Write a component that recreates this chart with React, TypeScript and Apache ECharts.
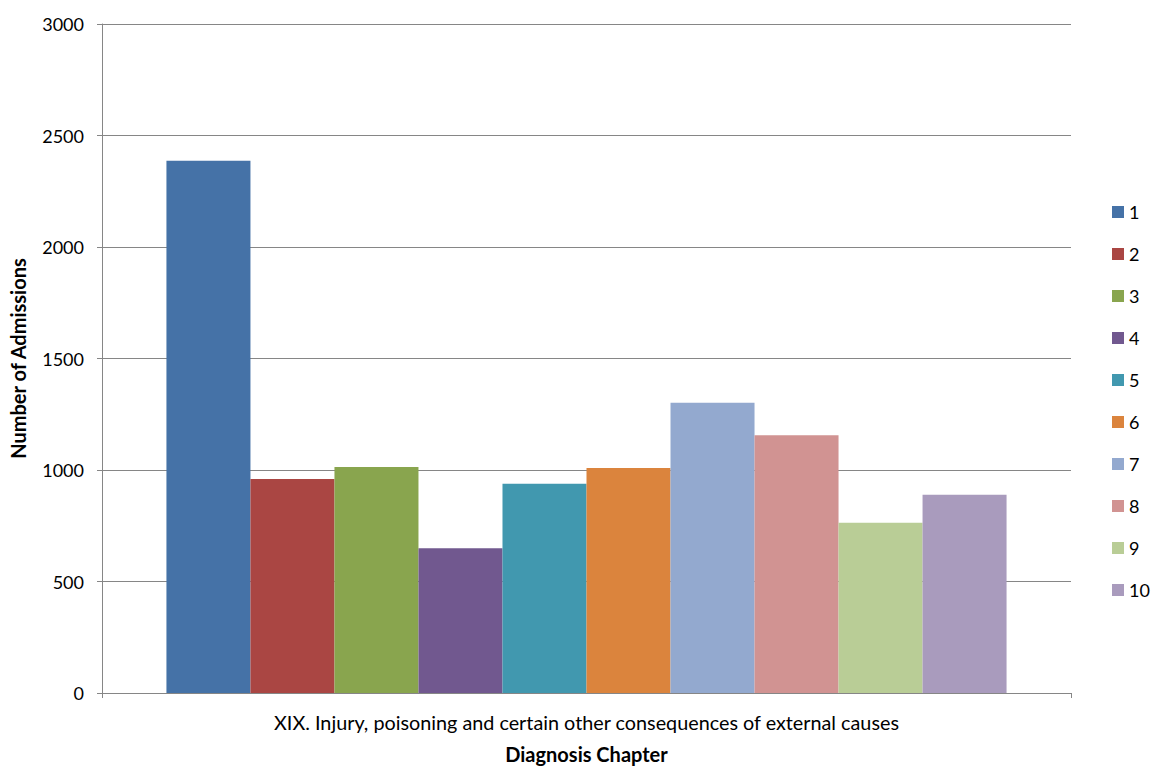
import React, { useEffect, useRef } from "react";
import * as echarts from "echarts";

const categories = ["XIX. Injury, poisoning and certain other consequences of external causes"];
const seriesNames = ["1", "2", "3", "4", "5", "6", "7", "8", "9", "10"];
const seriesValues = [2387, 960, 1013, 649, 938, 1009, 1302, 1156, 764, 889];
const colors = ["#4572A7", "#AA4643", "#89A54E", "#71588F", "#4198AF", "#DB843D", "#93A9CF", "#D19392", "#B9CD96", "#A99BBD"];
const yTicks = { min: 0, max: 3000, interval: 500 };

const FONT = "Lato, 'Open Sans', sans-serif";

export default function App() {
  const ref = useRef<HTMLDivElement>(null);
  useEffect(() => {
    if (!ref.current) return;
    const chart = echarts.init(ref.current, undefined, { renderer: "svg" });
    chart.setOption({
      animation: false,
      backgroundColor: "#ffffff",
      textStyle: { fontFamily: FONT, color: "#000" },
      grid: { left: 102, right: 81, top: 24, bottom: 70, containLabel: false },
      legend: {
        orient: "vertical",
        left: 1112,
        top: 203,
        padding: 0,
        itemWidth: 12,
        itemHeight: 12,
        itemGap: 24,
        icon: "rect",
        textStyle: { fontFamily: FONT, fontSize: 18, color: "#000" },
        data: seriesNames,
      },
      xAxis: {
        type: "category",
        data: categories,
        name: "Diagnosis Chapter",
        nameLocation: "middle",
        nameGap: 51,
        nameTextStyle: { fontFamily: FONT, fontSize: 20, fontWeight: "bold", color: "#000" },
        axisLine: { lineStyle: { color: "#868686", width: 1 } },
        axisTick: { show: true, length: 5, lineStyle: { color: "#868686" } },
        axisLabel: { fontFamily: FONT, fontSize: 19.8, color: "#000", margin: 19 },
      },
      yAxis: {
        type: "value",
        min: yTicks.min,
        max: yTicks.max,
        interval: yTicks.interval,
        name: "Number of Admissions",
        nameLocation: "middle",
        nameGap: 74,
        nameTextStyle: { fontFamily: FONT, fontSize: 20, fontWeight: "bold", color: "#000" },
        axisLine: { show: true, lineStyle: { color: "#868686", width: 1 } },
        axisTick: { show: true, length: 5, lineStyle: { color: "#868686" } },
        axisLabel: { fontFamily: FONT, fontSize: 18, color: "#000", margin: 18, formatter: (v: number) => String(v) },
        splitLine: { show: true, lineStyle: { color: "#868686", width: 1 } },
      },
      series: seriesNames.map((name, i) => ({
        name,
        type: "bar",
        data: [seriesValues[i]],
        itemStyle: { color: colors[i] },
        barGap: "0%",
        barCategoryGap: "13.3%",
      })),
    });
    return () => chart.dispose();
  }, []);
  return <div ref={ref} style={{ position: "absolute", left: 0, top: 0, width: 1152, height: 769 }} />;
}
